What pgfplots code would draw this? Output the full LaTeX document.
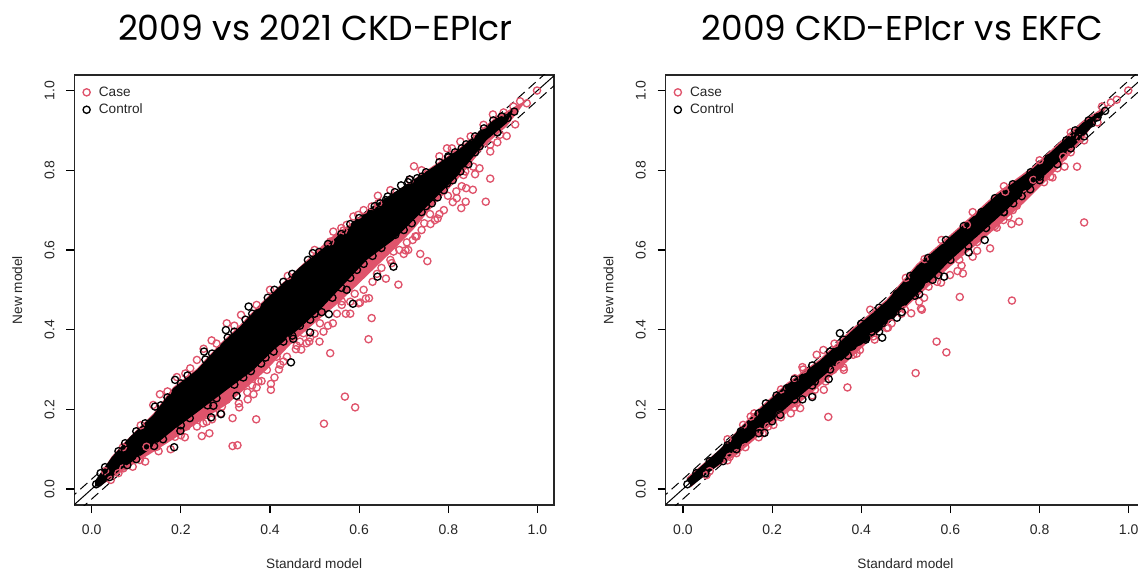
\documentclass[border=0pt]{standalone}
\usepackage{pgfplots}
\pgfplotsset{compat=1.18}
\usepackage{fontspec}
\setmainfont{Liberation Sans}
\newfontfamily\titlefont{Poppins}
\definecolor{casec}{HTML}{DF536B}
\pgfplotsset{
  panel/.style={
    scale only axis, width=359.6pt, height=322.5pt,
    xmin=-0.0386, xmax=1.037, ymin=-0.04, ymax=1.039,
    xtick={0,0.2,0.4,0.6,0.8,1.0}, ytick={0,0.2,0.4,0.6,0.8,1.0},
    xtick pos=bottom, ytick pos=left, tick align=outside,
    major tick length=6pt,
    tick style={line width=0.9pt,black},
    axis line style={line width=1.1pt,black!85},
    /pgf/number format/assume math mode=true,
    /pgf/number format/fixed, /pgf/number format/fixed zerofill, /pgf/number format/precision=1,
    tick label style={font=\fontsize{10.5}{12}\selectfont, text=black!85},
    yticklabel style={rotate=90, anchor=south, yshift=5.5pt},
    xticklabel style={yshift=-5.5pt},
    xlabel={Standard model}, ylabel={New model},
    label style={font=\fontsize{10.2}{12}\selectfont, text=black!85},
    xlabel style={at={(axis description cs:0.5,0)},anchor=center,yshift=-44.3pt},
    ylabel style={at={(axis description cs:0,0.5)},anchor=center,yshift=43pt},
    legend style={at={(axis description cs:0,1)},anchor=north west,draw=none,fill=none,
      font=\fontsize{10.2}{12}\selectfont, text=black!85, row sep=0.3pt, xshift=3.2pt,yshift=-4.5pt},
    legend cell align=left,
    clip=true,
  },
  pk/.style={only marks, mark=o, mark size=2.7pt, casec, mark options={line width=1pt}},
  bk/.style={only marks, mark=o, mark size=2.7pt, black, mark options={line width=1pt}},
  ref/.style={black, line width=0.75pt, no marks, forget plot},
  refd/.style={black, line width=0.75pt, no marks, forget plot, dash pattern=on 7pt off 4pt},
}
\begin{document}
\begin{tikzpicture}
\useasboundingbox (0,0) rectangle (853.5pt,428.25pt);
\clip (0,0) rectangle (853.5pt,428.25pt);
\node[font=\titlefont\fontsize{26}{30}\selectfont, anchor=center] at (236.6pt,407.5pt) {2009 vs 2021 CKD-EPIcr};
\node[font=\titlefont\fontsize{25.8}{30}\selectfont, anchor=center] at (676.9pt,407.5pt) {2009 CKD-EPIcr vs EKFC};

% LEFT PANEL
\begin{axis}[panel, at={(55.875pt,49.5pt)}, anchor=south west]
\addplot[ref] coordinates {(-0.05,-0.05)(1.05,1.05)};
\addplot[refd] coordinates {(-0.05,-0.025)(1.05,1.075)};
\addplot[refd] coordinates {(-0.05,-0.075)(1.05,1.025)};
\addplot[fill=casec, draw=none, forget plot] coordinates {
(.010,.022)(.045,.082)(.086,.132)(.138,.189)(.183,.256)(.236,.302)(.288,.365)(.333,.412)(.378,.465)(.467,.558)(.535,.630)(.625,.702)(.70,.760)(.767,.812)(.827,.858)(.902,.929)(.946,.958)(.976,.976)
(.931,.910)(.886,.866)(.827,.785)(.767,.712)(.722,.652)(.677,.600)(.617,.535)(.557,.470)(.512,.428)(.452,.370)(.393,.300)(.348,.255)(.303,.212)(.236,.165)(.183,.125)(.131,.088)(.093,.062)(.041,.024)(.015,.005)};
\addplot[pk] coordinates {
(.723,.810)(.642,.736)(.542,.646)(.931,.886)(.894,.779)(.855,.751)(.884,.721)(.839,.721)(.829,.705)(.819,.730)(.776,.679)(.737,.590)(.753,.572)(.688,.513)(.704,.599)(.660,.528)(.622,.479)(.615,.478)(.599,.466)(.561,.462)(.894,.847)(.808,.855)(.799,.736)(.818,.747)(.759,.690)(.746,.667)(.729,.634)(.707,.619)(.726,.634)(.677,.596)(.673,.567)(.587,.684)(.598,.688)(.572,.663)(.565,.649)(.535,.621)(.628,.709)(.643,.717)(.714,.776)(.999,1.000)(.976,.968)(.961,.973)(.946,.960)(.924,.945)(.879,.914)(.916,.889)(.894,.864)(.856,.809)(.838,.797)(.834,.788)(.797,.855)(.827,.872)
(.628,.429)(.621,.376)(.568,.232)(.591,.205)(.521,.164)(.535,.341)(.541,.416)(.580,.440)(.511,.370)(.488,.370)(.458,.351)(.369,.175)(.327,.110)(.316,.108)(.264,.140)(.247,.133)(.209,.130)(.177,.100)(.120,.069)(.092,.056)(.043,.023)(.402,.249)(.402,.264)(.381,.271)(.363,.238)(.349,.243)(.331,.205)(.316,.178)(.258,.169)(.236,.157)(.187,.131)(.303,.416)(.269,.373)(.251,.352)(.236,.324)(.221,.303)(.191,.281)(.153,.238)(.138,.211)(.335,.437)(.370,.462)(.423,.312)(.415,.332)(.393,.299)(.438,.332)(.475,.391)(.467,.370)(.512,.416)(.561,.471)(.602,.468)(.482,.366)(.445,.374)(.374,.270)(.303,.224)(.292,.207)(.273,.190)(.213,.157)(.194,.144)(.146,.106)(.108,.073)(.071,.052)(.123,.106)
(.03,.045)(.07,.105)(.11,.16)(.17,.245)(.21,.29)(.28,.365)(.32,.41)(.40,.50)(.44,.535)(.50,.60)(.56,.655)(.61,.70)(.67,.75)(.74,.80)(.78,.835)(.85,.885)(.90,.94)
(.06,.04)(.15,.095)(.27,.175)(.33,.215)(.37,.255)(.42,.30)(.47,.35)(.50,.39)(.53,.41)(.57,.44)(.59,.49)(.63,.52)(.65,.555)(.70,.59)(.72,.625)(.77,.675)(.79,.70)(.84,.755)(.87,.805)(.91,.87)(.95,.915)
(.20,.135)(.25,.165)(.29,.19)(.35,.225)(.36,.26)(.41,.28)(.43,.32)(.46,.36)(.49,.38)(.52,.395)(.55,.44)(.58,.47)(.61,.50)(.64,.54)(.67,.575)(.69,.60)(.71,.60)(.74,.65)(.76,.665)(.78,.69)(.81,.72)(.83,.76)(.86,.79)};
\addlegendentry{\hspace*{4.5pt}Case}
\addplot[fill=black, draw=none, forget plot] coordinates {
(.007,.020)(.045,.080)(.086,.131)(.138,.186)(.183,.253)(.236,.299)(.288,.362)(.333,.408)(.378,.462)(.467,.557)(.542,.625)(.617,.700)(.692,.754)(.767,.809)(.827,.855)(.902,.926)(.946,.952)
(.931,.918)(.886,.876)(.827,.793)(.767,.726)(.722,.675)(.677,.625)(.617,.575)(.519,.458)(.467,.404)(.408,.349)(.363,.299)(.303,.249)(.243,.198)(.183,.148)(.123,.094)(.064,.048)(.019,.006)(.008,.006)};
\addplot[bk] coordinates {
(.352,.458)(.301,.399)(.252,.345)(.187,.274)(.142,.207)(.325,.234)(.290,.188)(.268,.180)(.185,.105)(.447,.318)(.490,.393)(.532,.439)(.586,.465)(.357,.296)(.273,.209)(.199,.146)(.516,.444)(.452,.377)(.408,.345)(.467,.410)
(.496,.592)(.641,.533)(.677,.558)(.718,.667)(.591,.663)(.627,.690)(.664,.734)(.647,.717)(.694,.762)(.713,.777)(.741,.784)(.763,.717)(.776,.732)(.800,.832)(.830,.855)(.901,.925)(.933,.931)(.948,.947)(.875,.891)(.853,.868)(.827,.797)(.797,.767)(.572,.500)(.595,.550)(.681,.638)
(.02,.04)(.03,.055)(.06,.095)(.075,.115)(.10,.145)(.12,.165)(.155,.21)(.17,.23)(.2,.265)(.215,.285)(.255,.325)(.27,.34)(.305,.38)(.32,.395)(.345,.425)(.36,.44)(.395,.48)(.41,.5)(.43,.52)(.45,.54)(.485,.575)(.51,.595)(.53,.615)(.56,.64)(.58,.665)(.6,.68)(.635,.71)(.66,.725)(.68,.745)(.71,.77)(.73,.78)(.75,.795)(.78,.82)(.8,.835)(.815,.845)(.84,.865)(.86,.885)(.88,.905)(.92,.935)
(.04,.03)(.08,.06)(.1,.075)(.14,.108)(.16,.125)(.2,.16)(.22,.178)(.26,.21)(.28,.228)(.32,.262)(.34,.28)(.38,.315)(.39,.33)(.43,.37)(.45,.385)(.49,.425)(.5,.44)(.54,.48)(.56,.505)(.58,.53)(.61,.565)(.63,.585)(.65,.605)(.7,.65)(.74,.695)(.75,.71)(.79,.75)(.81,.775)(.845,.815)(.86,.845)(.87,.86)(.91,.895)(.01,.012)};
\addlegendentry{\hspace*{4.5pt}Control}
\end{axis}

% RIGHT PANEL
\begin{axis}[panel, at={(499.3pt,49.5pt)}, anchor=south west]
\addplot[ref] coordinates {(-0.05,-0.05)(1.05,1.05)};
\addplot[refd] coordinates {(-0.05,-0.025)(1.05,1.075)};
\addplot[refd] coordinates {(-0.05,-0.075)(1.05,1.025)};
\addplot[fill=casec, draw=none, forget plot] coordinates {
(.008,.028)(.083,.100)(.158,.190)(.233,.266)(.307,.326)(.382,.405)(.457,.476)(.525,.565)(.622,.660)(.704,.743)(.786,.810)(.898,.925)(.958,.968)
(.883,.859)(.824,.784)(.764,.717)(.689,.642)(.599,.558)(.502,.458)(.42,.374)(.345,.295)(.27,.224)(.195,.157)(.12,.085)(.046,.035)(.019,.005)};
\addplot[pk] coordinates {
(.326,.181)(.369,.255)(.522,.291)(.569,.370)(.591,.343)(.536,.450)(.512,.441)(.316,.249)(.361,.299)(.203,.161)(.120,.090)(.152,.182)(.179,.140)(.242,.190)(.263,.203)(.255,.215)(.300,.337)(.315,.349)(.268,.306)(.251,.278)(.382,.337)(.397,.349)(.427,.383)(.457,.404)(.468,.416)(.498,.450)(.296,.249)(.337,.299)(.352,.312)(.173,.144)(.191,.157)(.218,.186)(.105,.081)(.053,.035)(.135,.161)
(.900,.669)(.738,.473)(.621,.482)(.689,.604)(.754,.671)(.737,.665)(.704,.656)(.660,.598)(.650,.583)(.625,.561)(.616,.547)(.628,.541)(.599,.537)(.579,.518)(.551,.508)(.541,.480)(.542,.577)(.534,.453)(.856,.809)(.884,.809)(.829,.782)(.749,.711)(.730,.684)(.999,1.000)(.973,.977)(.786,.776)(.824,.784)(.719,.675)(.853,.834)(.891,.880)(.637,.663)(.723,.746)
(.06,.045)(.1,.072)(.14,.105)(.17,.13)(.22,.18)(.25,.205)(.29,.235)(.32,.27)(.36,.305)(.39,.34)(.43,.375)(.46,.405)(.49,.44)(.53,.47)(.57,.52)(.62,.575)(.66,.62)(.7,.66)(.74,.7)(.77,.74)(.81,.77)(.84,.805)(.87,.845)(.9,.875)(.93,.92)
(.1,.125)(.16,.19)(.22,.25)(.27,.3)(.34,.365)(.42,.45)(.5,.53)(.58,.625)(.65,.695)(.72,.76)(.8,.825)(.87,.895)(.94,.96)(.96,.97)};
\addlegendentry{\hspace*{4.5pt}Case}
\addplot[fill=black, draw=none, forget plot] coordinates {
(.008,.024)(.083,.100)(.158,.186)(.233,.262)(.307,.322)(.382,.400)(.457,.472)(.525,.560)(.622,.655)(.704,.738)(.786,.805)(.898,.920)(.943,.952)
(.943,.940)(.898,.885)(.824,.800)(.749,.724)(.674,.648)(.599,.573)(.524,.488)(.457,.410)(.382,.347)(.307,.276)(.233,.205)(.158,.129)(.083,.063)(.019,.007)};
\addplot[bk] coordinates {
(.352,.391)(.447,.380)(.491,.444)(.327,.276)(.290,.231)(.268,.225)(.183,.141)(.186,.215)(.411,.379)(.423,.395)(.447,.416)(.233,.253)(.296,.270)(.218,.186)
(.677,.625)(.641,.594)(.586,.533)(.530,.489)(.720,.695)(.741,.717)(.779,.752)(.947,.949)(.930,.933)(.917,.918)(.902,.910)(.891,.895)(.880,.885)(.573,.537)(.801,.784)
(.03,.04)(.06,.07)(.1,.11)(.13,.145)(.17,.19)(.21,.235)(.25,.275)(.29,.31)(.33,.345)(.36,.375)(.4,.415)(.44,.455)(.48,.49)(.51,.535)(.55,.58)(.59,.625)(.63,.66)(.67,.695)(.7,.73)(.74,.765)(.78,.795)(.82,.83)(.86,.875)(.88,.9)(.91,.925)
(.05,.04)(.09,.07)(.12,.1)(.17,.14)(.2,.17)(.25,.225)(.29,.26)(.33,.3)(.37,.335)(.41,.375)(.44,.395)(.48,.43)(.52,.485)(.56,.525)(.6,.575)(.64,.61)(.68,.655)(.72,.695)(.76,.735)(.8,.775)(.84,.815)(.87,.855)(.9,.885)(.01,.012)};
\addlegendentry{\hspace*{4.5pt}Control}
\end{axis}
\end{tikzpicture}
\end{document}
